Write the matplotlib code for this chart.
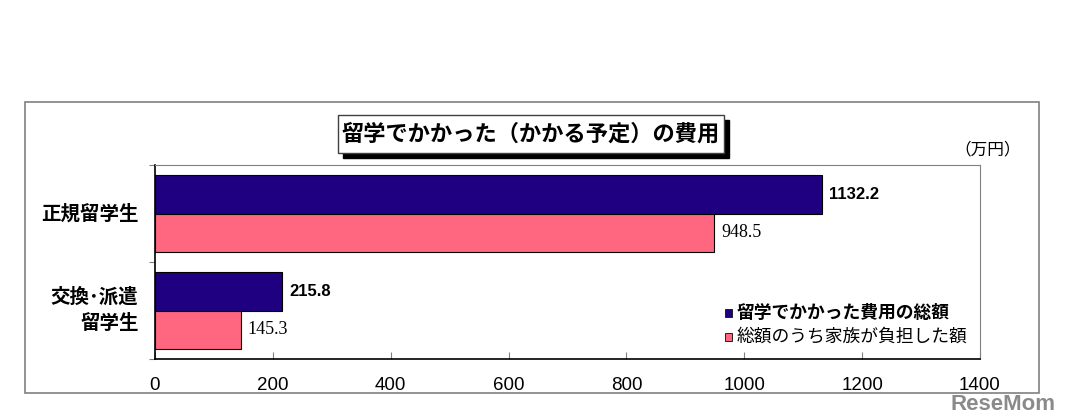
import matplotlib
matplotlib.use("Agg")
from matplotlib import pyplot as plt
from matplotlib.patches import Rectangle
import numpy as np

plt.rcParams['font.family'] = ['Noto Sans CJK JP', 'DejaVu Sans']

# data
categories = ["正規留学生", "交換･派遣\n留学生"]
total_cost = [1132.2, 215.8]
family_cost = [948.5, 145.3]
series_names = ["留学でかかった費用の総額", "総額のうち家族が負担した額"]
x_ticks = [0, 200, 400, 600, 800, 1000, 1200, 1400]

navy = "#1f0080"
pink = "#ff6680"

fig = plt.figure(figsize=(10.68, 4.18), dpi=100)

# outer frame
fig.patches.append(Rectangle((25 / 1068, 1 - 393 / 418), (1039 - 25) / 1068, (393 - 102) / 418,
                             transform=fig.transFigure, fill=False, edgecolor="#808080", linewidth=1.2))

ax = fig.add_axes([155 / 1068, 1 - 359 / 418, (980 - 155) / 1068, (359 - 165) / 418])

y = np.arange(len(categories))
h = 0.4
ax.barh(y - h / 2, total_cost, height=h, color=navy, edgecolor="black", linewidth=0.8)
ax.barh(y + h / 2, family_cost, height=h, color=pink, edgecolor="black", linewidth=0.8)

ax.set_xlim(0, 1400)
ax.set_ylim(1.5, -0.5)
ax.set_xticks(x_ticks)
ax.set_xticklabels([str(t) for t in x_ticks], fontfamily="Liberation Sans", fontsize=13.5)
ax.tick_params(axis="x", direction="in", length=5, pad=13, color="#808080")
ax.set_yticks([-0.5, 0.5, 1.5])
ax.set_yticklabels([])
ax.tick_params(axis="y", direction="out", length=4, color="#808080")

for spine in ["top", "right"]:
    ax.spines[spine].set_color("#808080")
for spine in ["left", "bottom"]:
    ax.spines[spine].set_color("black")
    ax.spines[spine].set_linewidth(1.2)

# category labels
for yi, cat in zip(y, categories):
    ax.text(-28, yi, cat, ha="right", va="center", fontsize=14, fontweight="bold",
            linespacing=1.45)

# value labels
for yi, v in zip(y, total_cost):
    ax.text(v + 12, yi - h / 2, f"{v:.1f}", ha="left", va="center", fontsize=12,
            fontfamily="Liberation Sans", fontweight="bold")
for yi, v in zip(y, family_cost):
    ax.text(v + 12, yi + h / 2, f"{v:.1f}", ha="left", va="center", fontsize=13,
            fontfamily="Liberation Serif")

# legend
legend_rows = [0.237, 0.113]
for row, color, name, weight in zip(legend_rows, [navy, pink], series_names, ["bold", "normal"]):
    ax.add_patch(Rectangle((0.691, row - 0.019), 0.0088, 0.038, transform=ax.transAxes,
                           facecolor=color, edgecolor="#202020", linewidth=0.7, clip_on=False))
    ax.text(0.7045, row, name, transform=ax.transAxes, fontsize=12.8, fontweight=weight,
            va="center", ha="left")

# unit
fig.text(988 / 1068, 1 - 150 / 418, "（万円）", ha="center", va="center", fontsize=12)

# title box with shadow
bx0, by0, bx1, by1 = 338, 115, 724, 153
fig.patches.append(Rectangle(((bx0 + 5) / 1068, 1 - (by1 + 5) / 418), (bx1 - bx0) / 1068, (by1 - by0) / 418,
                             transform=fig.transFigure, facecolor="black", edgecolor="black"))
fig.patches.append(Rectangle((bx0 / 1068, 1 - by1 / 418), (bx1 - bx0) / 1068, (by1 - by0) / 418,
                             transform=fig.transFigure, facecolor="white", edgecolor="#404040", linewidth=1))
fig.text((bx0 + bx1) / 2 / 1068, 1 - (by0 + by1) / 2 / 418, "留学でかかった（かかる予定）の費用",
         ha="center", va="center", fontsize=16, fontweight="bold")

# watermark
fig.text(1056 / 1068, 1 - 404 / 418, "ReseMom", ha="right", va="center", fontsize=16,
         fontweight="bold", color="#8a8a8a", fontfamily="Liberation Sans")

fig.savefig("out.png", dpi=100)
